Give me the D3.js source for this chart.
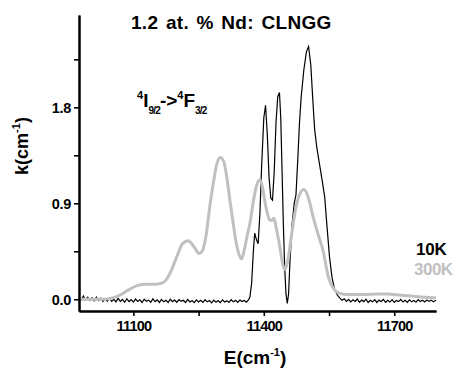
<!DOCTYPE html>
<html>
<head>
<meta charset="utf-8">
<script src="https://cdn.jsdelivr.net/npm/d3@7"></script>
<style>
  body { margin: 0; background: #fff; }
  svg text { font-family: Arial, "Liberation Sans", sans-serif; font-weight: bold; }
</style>
</head>
<body>
<div id="chart"></div>
<script>
// absorption spectrum 4I9/2 -> 4F3/2 of Nd:CLNGG at 10K and 300K
const yMajorTicks = [0.0, 0.9, 1.8];
const yMinorTicks = [0.45, 1.35, 2.25];
const xMajorTicks = [11100, 11400, 11700];
const xMinorTicks = [11250, 11550];
const seriesNames = ["10K", "300K"];

// 300K spectrum [E (cm-1), k (cm-1)]
const k300K = [
    [10975, 0.0], [11000, 0.0], [11030, 0.0], [11050, 0.01], [11070, 0.04], [11090, 0.09],
    [11110, 0.13], [11130, 0.14], [11150, 0.14], [11165, 0.15], [11175, 0.18], [11185, 0.25],
    [11200, 0.40], [11213, 0.52], [11226, 0.55], [11240, 0.49], [11251, 0.43], [11258, 0.45],
    [11268, 0.62], [11276, 0.88], [11284, 1.09], [11292, 1.27], [11300, 1.33], [11308, 1.29],
    [11315, 1.14], [11322, 0.93], [11330, 0.70], [11337, 0.52], [11343, 0.42], [11349, 0.38],
    [11356, 0.48], [11362, 0.60], [11368, 0.71], [11376, 0.92], [11383, 1.06], [11391, 1.12],
    [11397, 1.05], [11402, 0.93], [11408, 0.81], [11414, 0.74], [11419, 0.74], [11423, 0.76],
    [11430, 0.64], [11437, 0.49], [11442, 0.36], [11448, 0.28], [11455, 0.36], [11463, 0.58],
    [11472, 0.82], [11482, 0.98], [11492, 1.03], [11502, 0.96], [11513, 0.78], [11524, 0.62],
    [11536, 0.46], [11549, 0.20], [11559, 0.11], [11567, 0.07], [11580, 0.05], [11600, 0.045],
    [11630, 0.045], [11660, 0.05], [11685, 0.05], [11710, 0.04], [11740, 0.03], [11770, 0.02],
    [11796, 0.015]
];

// 10K spectrum [E (cm-1), k (cm-1)]
const k10K = [
    [10975, 0.01], [10980, -0.01], [10985, 0.03], [10990, -0.005], [10995, 0.02], [11000, -0.01],
    [11005, 0.015], [11010, -0.015], [11015, 0.02], [11020, -0.012], [11025, 0.01], [11030, -0.02],
    [11035, 0.005], [11040, -0.018], [11045, 0.012], [11050, -0.02], [11055, 0.0], [11060, -0.025],
    [11065, 0.008], [11070, -0.02], [11075, -0.002], [11080, -0.028], [11085, 0.005], [11090, -0.022],
    [11095, -0.004], [11100, -0.026], [11105, 0.002], [11110, -0.02], [11115, -0.005], [11120, -0.03],
    [11125, 0.0], [11130, -0.018], [11135, -0.008], [11140, -0.028], [11145, 0.004], [11150, -0.022],
    [11155, -0.006], [11160, -0.03], [11165, -0.002], [11170, -0.024], [11175, -0.01], [11180, -0.03],
    [11185, 0.0], [11190, -0.022], [11195, -0.008], [11200, -0.028], [11205, -0.004], [11210, -0.02],
    [11215, -0.01], [11220, -0.03], [11225, -0.002], [11230, -0.025], [11235, -0.012], [11240, -0.032],
    [11245, -0.006], [11250, -0.026], [11255, -0.01], [11260, -0.03], [11265, -0.004], [11270, -0.024],
    [11275, -0.012], [11280, -0.034], [11285, -0.008], [11290, -0.028], [11295, -0.012], [11300, -0.032],
    [11305, -0.006], [11310, -0.026], [11315, -0.014], [11320, -0.03], [11325, -0.004], [11330, -0.024],
    [11335, -0.01], [11340, -0.03], [11345, -0.008], [11350, -0.022], [11355, -0.012], [11360, -0.028],
    [11365, -0.004],
    [11368, 0.02], [11372, 0.15], [11376, 0.45], [11379, 0.62], [11383, 0.56], [11387, 0.52],
    [11391, 0.80], [11395, 1.25], [11400, 1.70], [11404, 1.82], [11408, 1.55], [11412, 1.15],
    [11416, 0.95], [11420, 0.93], [11424, 1.20], [11428, 1.65], [11432, 1.90], [11436, 1.94],
    [11439, 1.70], [11442, 1.20], [11445, 0.70], [11448, 0.30], [11451, 0.05], [11454, -0.04],
    [11457, 0.05], [11460, 0.34], [11465, 0.70], [11470, 0.90], [11474, 0.98], [11478, 1.30],
    [11482, 1.65], [11486, 1.90], [11492, 2.15], [11498, 2.32], [11503, 2.37], [11508, 2.20],
    [11513, 1.85], [11517, 1.59], [11522, 1.42], [11528, 1.27], [11534, 1.12], [11540, 0.96],
    [11545, 0.70], [11551, 0.40], [11557, 0.20], [11563, 0.09], [11569, 0.04],
    [11575, 0.01], [11580, -0.01], [11585, 0.005], [11590, -0.02], [11595, 0.0], [11600, -0.025],
    [11605, -0.005], [11610, -0.02], [11615, 0.002], [11620, -0.028], [11625, -0.008], [11630, -0.022],
    [11635, 0.0], [11640, -0.03], [11645, -0.01], [11650, -0.024], [11655, -0.004], [11660, -0.03],
    [11665, -0.008], [11670, -0.02], [11675, -0.002], [11680, -0.028], [11685, -0.01], [11690, -0.026],
    [11695, -0.004], [11700, -0.03], [11705, -0.012], [11710, -0.022], [11715, -0.002], [11720, -0.026],
    [11725, -0.01], [11730, -0.03], [11735, -0.006], [11740, -0.024], [11745, -0.012], [11750, -0.028],
    [11755, -0.004], [11760, -0.022], [11765, -0.01], [11770, -0.026], [11775, -0.006], [11780, -0.02],
    [11785, -0.008], [11790, -0.024], [11796, -0.01]
];

const margin = { top: 15, right: 22, bottom: 61, left: 79 },
    width = 458 - margin.left - margin.right,
    height = 372 - margin.top - margin.bottom;

const svg = d3.select("#chart")
    .append("svg")
    .attr("width", 458)
    .attr("height", 372);

const g = svg.append("g")
    .attr("transform", `translate(${margin.left},${margin.top})`);

const x = d3.scaleLinear().domain([10975, 11796]).range([0, width]);
const y = d3.scaleLinear().domain([-0.11, 2.666]).range([height, 0]);

// curves: 10K first, 300K on top
const line = d3.line().x(d => x(d[0])).y(d => y(d[1]));

g.append("path")
    .datum(k10K)
    .attr("fill", "none")
    .attr("stroke", "#000")
    .attr("stroke-width", 1.2)
    .attr("d", line);

g.append("path")
    .datum(k300K)
    .attr("fill", "none")
    .attr("stroke", "#c0c0c0")
    .attr("stroke-width", 3)
    .attr("stroke-linejoin", "round")
    .attr("d", d3.line().curve(d3.curveMonotoneX).x(d => x(d[0])).y(d => y(d[1])));

// axes
function styleAxis(sel) {
    sel.select(".domain").attr("stroke", "#000").attr("stroke-width", 2);
    sel.selectAll(".tick line").attr("stroke", "#000").attr("stroke-width", 1.6);
    sel.selectAll(".tick text").attr("fill", "#000").style("font-size", "14.5px");
}

g.append("g")
    .call(d3.axisLeft(y).tickValues(yMinorTicks).tickSize(5).tickSizeOuter(0).tickFormat(""))
    .call(styleAxis);

g.append("g")
    .call(d3.axisLeft(y).tickValues(yMajorTicks).tickSize(5).tickSizeOuter(0).tickPadding(3)
        .tickFormat(d3.format(".1f")))
    .call(styleAxis)
    .selectAll(".tick text").attr("dy", "0.36em").style("letter-spacing", "-0.3px");

g.append("g")
    .attr("transform", `translate(0,${height})`)
    .call(d3.axisBottom(x).tickValues(xMinorTicks).tickSize(5).tickSizeOuter(0).tickFormat(""))
    .call(styleAxis);

g.append("g")
    .attr("transform", `translate(0,${height})`)
    .call(d3.axisBottom(x).tickValues(xMajorTicks).tickSize(5).tickSizeOuter(0).tickPadding(5)
        .tickFormat(d3.format("d")))
    .call(styleAxis)
    .selectAll(".tick text").style("letter-spacing", "-0.8px");

// title
svg.append("text")
    .attr("x", 131)
    .attr("y", 29)
    .style("font-size", "19px")
    .style("letter-spacing", "0.3px")
    .style("word-spacing", "2px")
    .text("1.2 at. % Nd: CLNGG");

// transition label
const tr = svg.append("text").attr("x", 137).attr("y", 107).style("font-size", "19px");
tr.append("tspan").style("font-size", "11px").attr("dy", -8).text("4");
tr.append("tspan").attr("dy", 8).text("I");
tr.append("tspan").style("font-size", "10px").style("letter-spacing", "-0.8px").attr("dy", 6.5).text("9/2");
tr.append("tspan").attr("dy", -6.5).text("->");
tr.append("tspan").style("font-size", "11px").attr("dy", -8).text("4");
tr.append("tspan").attr("dy", 8).text("F");
tr.append("tspan").style("font-size", "10px").style("letter-spacing", "-0.8px").attr("dy", 6.5).text("3/2");

// legend
svg.append("text")
    .attr("x", 416).attr("y", 255)
    .style("font-size", "17px").style("letter-spacing", "-0.2px")
    .attr("fill", "#000")
    .text(seriesNames[0]);
svg.append("text")
    .attr("x", 414).attr("y", 275)
    .style("font-size", "17px").style("letter-spacing", "-0.5px")
    .attr("fill", "#c0c0c0")
    .text(seriesNames[1]);

// x-axis label
const xl = svg.append("text")
    .attr("x", 255).attr("y", 364)
    .attr("text-anchor", "middle")
    .style("font-size", "19px");
xl.append("tspan").text("E(cm");
xl.append("tspan").style("font-size", "11px").attr("dy", -8).text("-1");
xl.append("tspan").attr("dy", 8).text(")");

// y-axis label
const yl = svg.append("text")
    .attr("transform", "translate(28,146) rotate(-90)")
    .attr("text-anchor", "middle")
    .style("font-size", "18px");
yl.append("tspan").text("k(cm");
yl.append("tspan").style("font-size", "11px").attr("dy", -8).text("-1");
yl.append("tspan").attr("dy", 8).text(")");
</script>
</body>
</html>
